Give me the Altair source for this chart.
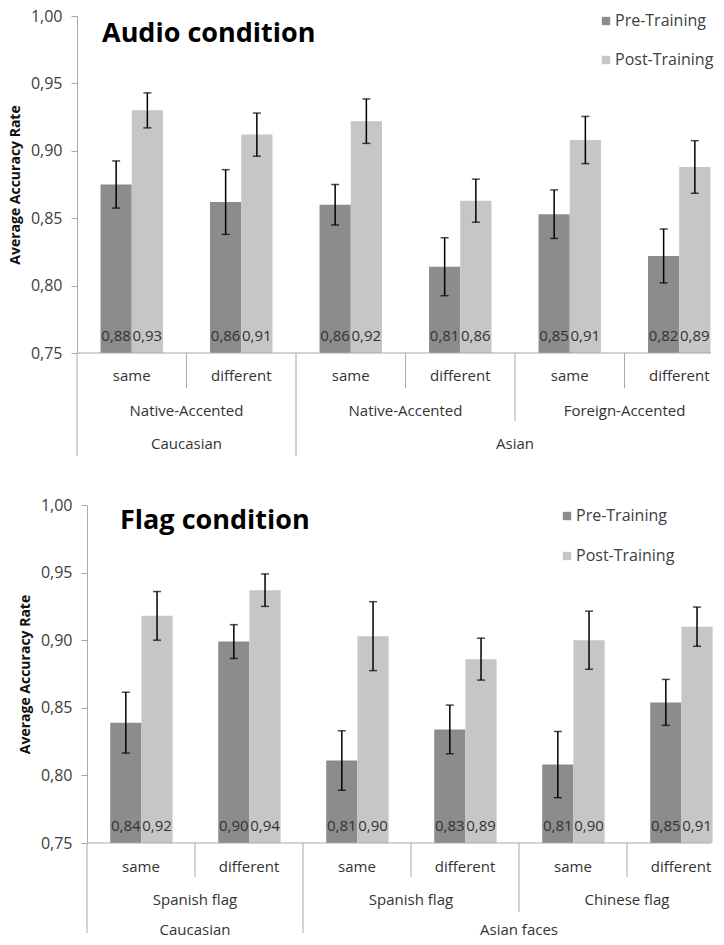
import altair as alt
import pandas as pd

# ---------------- data ----------------
series_order = ["Pre-Training", "Post-Training"]
conditions = ["same", "different", "same", "different", "same", "different"]

audio_pre = [0.875, 0.862, 0.860, 0.814, 0.853, 0.822]
audio_pre_err = [0.0175, 0.024, 0.015, 0.0215, 0.018, 0.020]
audio_post = [0.930, 0.912, 0.922, 0.863, 0.908, 0.888]
audio_post_err = [0.013, 0.016, 0.0165, 0.016, 0.0175, 0.0195]
audio_pre_lbl = ["0,88", "0,86", "0,86", "0,81", "0,85", "0,82"]
audio_post_lbl = ["0,93", "0,91", "0,92", "0,86", "0,91", "0,89"]
audio_mid_labels = ["Native-Accented", "Native-Accented", "Foreign-Accented"]
audio_mid_start = [0, 2, 4]
audio_mid_end = [2, 4, 6]
audio_top_labels = ["Caucasian", "Asian"]
audio_top_start = [0, 2]
audio_top_end = [2, 6]

flag_pre = [0.839, 0.899, 0.811, 0.834, 0.808, 0.854]
flag_pre_err = [0.0225, 0.0125, 0.022, 0.018, 0.0245, 0.017]
flag_post = [0.918, 0.937, 0.903, 0.886, 0.900, 0.910]
flag_post_err = [0.018, 0.012, 0.0255, 0.0155, 0.0215, 0.0145]
flag_pre_lbl = ["0,84", "0,90", "0,81", "0,83", "0,81", "0,85"]
flag_post_lbl = ["0,92", "0,94", "0,90", "0,89", "0,90", "0,91"]
flag_mid_labels = ["Spanish flag", "Spanish flag", "Chinese flag"]
flag_mid_start = [0, 2, 4]
flag_mid_end = [2, 4, 6]
flag_top_labels = ["Caucasian", "Asian faces"]
flag_top_start = [0, 2]
flag_top_end = [2, 6]

PRE_COLOR = "#8c8c8c"
POST_COLOR = "#c6c6c6"
AXIS_GRAY = "#a8a8a8"
TEXT_COLOR = "#333333"
FONT = "Open Sans"


def panel(title, pre, pre_err, post, post_err, pre_lbl, post_lbl,
          mid_labels, mid_start, mid_end, top_labels, top_start, top_end,
          step, vis_w, H, x0, title_xy, legend_xy, row_y, sep_len):
    n = len(conditions)
    cats = [f"c{i}" for i in range(n)]
    rows = []
    for i in range(n):
        rows.append(dict(cat=cats[i], series=series_order[0], value=pre[i],
                         lo=pre[i] - pre_err[i], hi=pre[i] + pre_err[i], label=pre_lbl[i]))
        rows.append(dict(cat=cats[i], series=series_order[1], value=post[i],
                         lo=post[i] - post_err[i], hi=post[i] + post_err[i], label=post_lbl[i]))
    df = pd.DataFrame(rows)

    full = n * step
    xband = alt.X("cat:N", sort=cats, axis=None,
                  scale=alt.Scale(domain=cats, range=[x0, x0 + full],
                                  paddingInner=0.43, paddingOuter=0.215))
    xoff = alt.XOffset("series:N", sort=series_order,
                       scale=alt.Scale(domain=series_order, paddingInner=0, paddingOuter=0))
    yscale = alt.Scale(domain=[0.75, 1.0], nice=False, zero=False)
    yaxis = alt.Axis(values=[0.75, 0.80, 0.85, 0.90, 0.95, 1.00],
                     labelExpr="replace(format(datum.value, '.2f'), '.', ',')",
                     grid=False, tickSize=6, tickColor=AXIS_GRAY, domainColor=AXIS_GRAY,
                     labelColor="#404040", labelFont=FONT, labelFontSize=16, labelPadding=9,
                     offset=-x0,
                     title="Average Accuracy Rate", titleFont=FONT, titleFontSize=14,
                     titleFontWeight="bold", titleColor="#111111", titleX=-62, titleY=H / 2,
                     titleAngle=270, titleAlign="center", titleBaseline="middle")
    color = alt.Color("series:N",
                      scale=alt.Scale(domain=series_order, range=[PRE_COLOR, POST_COLOR]),
                      legend=alt.Legend(title=None, orient="none", legendX=legend_xy[0],
                                        legendY=legend_xy[1], direction="vertical",
                                        symbolType="square", symbolSize=70, symbolStrokeWidth=0,
                                        labelFont=FONT, labelFontSize=16, labelColor="#404040",
                                        rowPadding=legend_xy[2], labelOffset=1, padding=0))

    base = alt.Chart(df)
    bars = base.mark_bar().encode(
        x=xband, xOffset=xoff,
        y=alt.Y("value:Q", scale=yscale, axis=yaxis), y2=alt.datum(0.75),
        color=color)
    err = base.mark_rule(color="black", strokeWidth=1.5).encode(
        x=xband, xOffset=xoff, y="lo:Q", y2="hi:Q")
    cap_lo = base.mark_tick(color="black", thickness=1.5, size=8, orient="horizontal").encode(
        x=xband, xOffset=xoff, y="lo:Q")
    cap_hi = base.mark_tick(color="black", thickness=1.5, size=8, orient="horizontal").encode(
        x=xband, xOffset=xoff, y="hi:Q")
    vals = base.mark_text(font=FONT, fontSize=15, color=TEXT_COLOR, baseline="middle").encode(
        x=xband, xOffset=xoff, y=alt.value(H - 17), text="label:N")

    cond_df = pd.DataFrame({"cat": cats, "cond": conditions})
    cond_txt = alt.Chart(cond_df).mark_text(font=FONT, fontSize=15, color=TEXT_COLOR,
                                            baseline="middle").encode(
        x=xband, y=alt.value(H + row_y[0]), text="cond:N")

    xq = alt.Scale(domain=[0, n], range=[x0, x0 + full])
    mid_df = pd.DataFrame({"label": mid_labels,
                           "pos": [(a + b) / 2 for a, b in zip(mid_start, mid_end)]})
    top_df = pd.DataFrame({"label": top_labels,
                           "pos": [(a + b) / 2 for a, b in zip(top_start, top_end)]})
    mid_txt = alt.Chart(mid_df).mark_text(font=FONT, fontSize=15, color=TEXT_COLOR,
                                          baseline="middle").encode(
        x=alt.X("pos:Q", scale=xq, axis=None), y=alt.value(H + row_y[1]), text="label:N")
    top_txt = alt.Chart(top_df).mark_text(font=FONT, fontSize=15, color=TEXT_COLOR,
                                          baseline="middle").encode(
        x=alt.X("pos:Q", scale=xq, axis=None), y=alt.value(H + row_y[2]), text="label:N")

    bounds = list(range(n))
    levels = []
    for b in bounds:
        if b in top_start:
            levels.append(3)
        elif b in mid_start:
            levels.append(2)
        else:
            levels.append(1)
    sep_df = pd.DataFrame({"pos": bounds, "level": levels})
    seps = []
    for lev in (1, 2, 3):
        seps.append(alt.Chart(sep_df).transform_filter(alt.datum.level == lev)
                    .mark_rule(color=AXIS_GRAY, strokeWidth=1).encode(
            x=alt.X("pos:Q", scale=xq, axis=None),
            y=alt.value(H), y2=alt.value(H + sep_len[lev - 1])))

    one = pd.DataFrame({"t": [title]})
    baseline = alt.Chart(one).mark_rule(color=AXIS_GRAY, strokeWidth=1).encode(
        x=alt.value(x0), x2=alt.value(vis_w), y=alt.value(H))
    ttl = alt.Chart(one).mark_text(font=FONT, fontSize=27, fontWeight="bold", color="#000000",
                                   align="left", baseline="middle").encode(
        x=alt.value(title_xy[0]), y=alt.value(title_xy[1]), text="t:N")

    layers = [bars, err, cap_lo, cap_hi, vals, cond_txt, mid_txt, top_txt] + seps + [baseline, ttl]
    return alt.layer(*layers).resolve_scale(x="independent").properties(width=vis_w, height=H)


top = panel("Audio condition", audio_pre, audio_pre_err, audio_post, audio_post_err,
            audio_pre_lbl, audio_post_lbl, audio_mid_labels, audio_mid_start, audio_mid_end,
            audio_top_labels, audio_top_start, audio_top_end,
            step=109.5, vis_w=634, H=337, x0=0, title_xy=(25, 18), legend_xy=(521, -3, 23),
            row_y=(23, 58, 91), sep_len=(35, 68, 103))
bottom = panel("Flag condition", flag_pre, flag_pre_err, flag_post, flag_post_err,
               flag_pre_lbl, flag_post_lbl, flag_mid_labels, flag_mid_start, flag_mid_end,
               flag_top_labels, flag_top_start, flag_top_end,
               step=108, vis_w=634, H=338, x0=10, title_xy=(43, 16), legend_xy=(482, 3, 24),
               row_y=(24, 57, 87), sep_len=(34, 69, 90))

chart = (alt.vconcat(top, bottom, spacing=40, padding=0)
         .resolve_scale(color="independent")
         .resolve_legend(color="independent")
         .configure_view(stroke=None))
chart.save("out.html", embed_options={"renderer": "svg", "actions": False})
